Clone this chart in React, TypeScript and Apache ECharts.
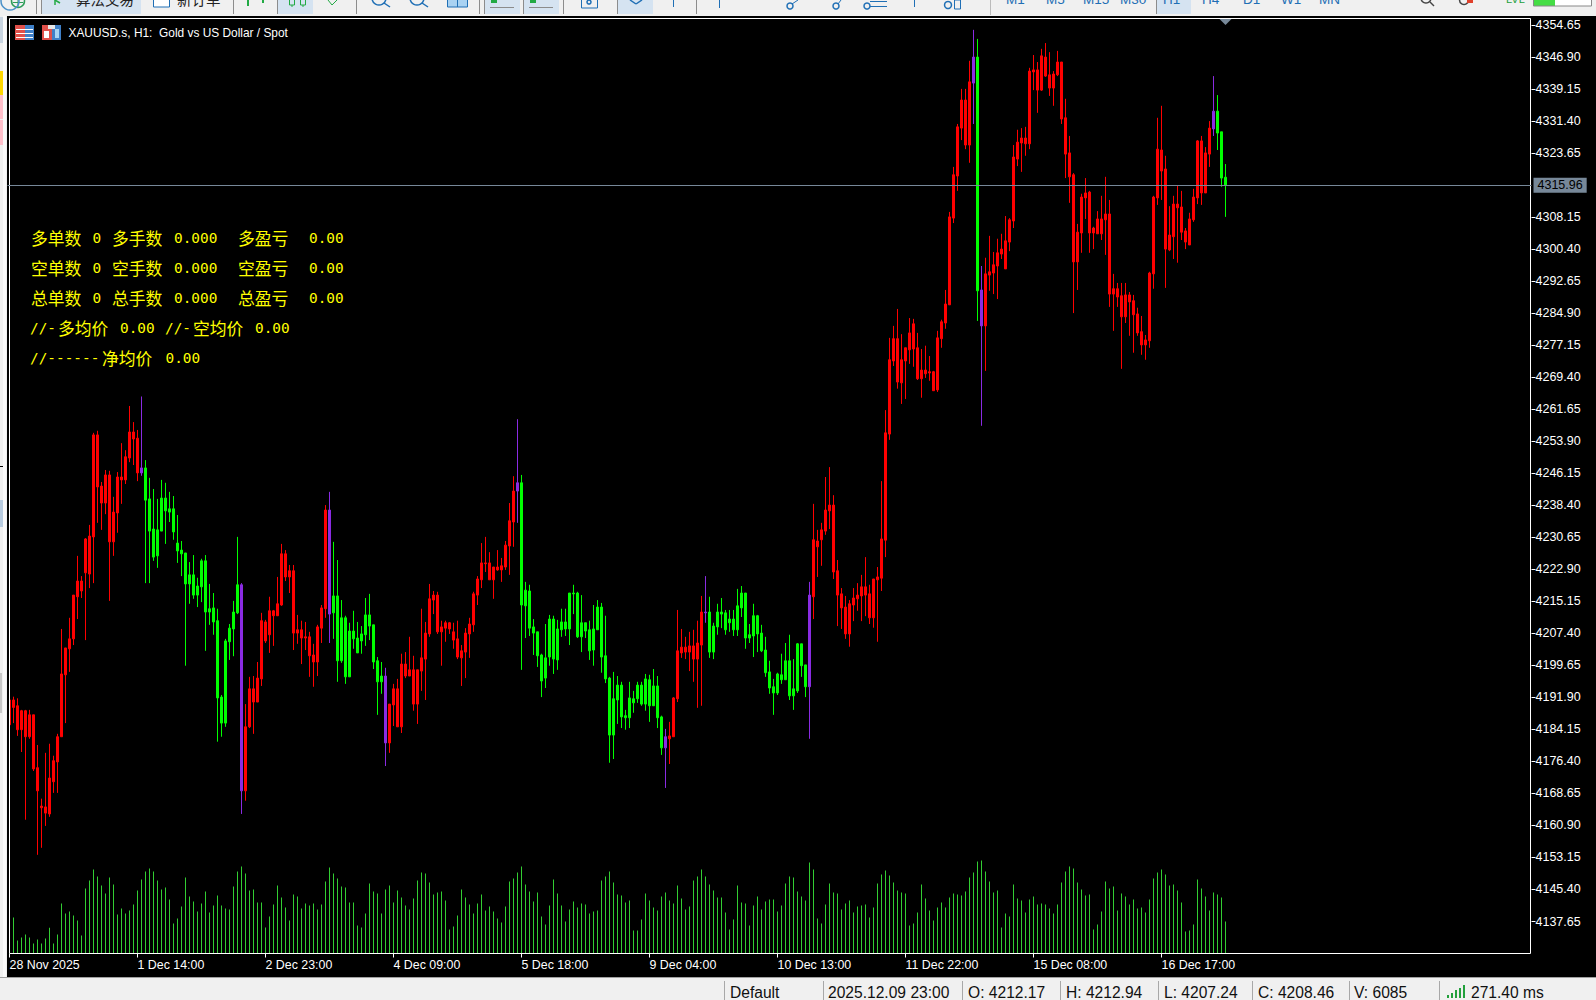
import React, { useEffect, useRef } from "react";
import * as echarts from "echarts";

// Each row: [body top, body bottom, high, low]
const barsA: number[][] = [
[4191.3,4185.3,4191.3,4180.4],[4191.3,4189.5,4192.1,4185.7],[4189.9,4184.1,4191.7,4182.6],[4188.7,4184.1,4188.9,4178.7],[4188.7,4182.4,4188.9,4162.3],[4187.7,4182.4,4188.9,4181.9],[4187.7,4174.6,4187.7,4174.1],[4174.9,4169.3,4180.4,4153.8],[4165.6,4165.2,4167.4,4155.5],[4165.4,4163.9,4178.5,4160.8],
[4172.4,4163.7,4180.7,4163.0],[4176.6,4171.5,4177.8,4168.8],[4182.4,4176.3,4183.1,4168.8],[4197.6,4182.4,4208.5,4182.4],[4203.9,4197.4,4203.9,4185.7],[4206.1,4203.7,4211.2,4198.1],[4216.7,4206.1,4216.7,4204.6],[4220.1,4216.3,4226.2,4210.9],[4220.1,4217.7,4221.3,4216.0],[4230.3,4222.1,4230.5,4205.8],
[4231.0,4221.8,4233.7,4218.4],[4255.5,4230.8,4256.0,4219.6],[4255.5,4242.9,4256.5,4234.2],[4243.1,4239.0,4244.1,4232.5],[4245.8,4239.0,4247.0,4236.3],[4245.8,4229.6,4246.8,4215.3],[4236.8,4229.6,4240.5,4226.2],[4245.3,4236.6,4246.5,4231.8],[4245.3,4244.6,4253.5,4238.8],[4250.2,4244.6,4251.8,4243.6],
[4256.2,4249.9,4262.5,4248.9],[4256.2,4254.5,4258.6,4248.2],[4254.7,4246.3,4256.7,4244.3],[4247.5,4246.3,4264.8,4245.6],[4247.5,4239.7,4249.4,4219.6],[4240.0,4232.2,4245.1,4219.6],[4232.7,4225.9,4242.4,4225.0],[4232.5,4226.2,4240.0,4223.3],[4240.2,4232.2,4244.6,4232.2],[4240.2,4237.1,4243.9,4229.1],
[4237.6,4236.8,4241.7,4234.4],[4237.6,4232.0,4240.7,4230.1],[4229.3,4227.4,4236.1,4224.5],[4227.6,4226.7,4229.8,4221.3],[4226.9,4219.4,4226.9,4199.6],[4221.6,4219.4,4224.7,4214.6],[4221.6,4216.7,4226.4,4215.8],[4218.9,4216.7,4220.9,4213.8],[4225.0,4218.7,4225.5,4215.0],[4225.0,4212.6,4226.4,4203.2],
[4213.4,4212.6,4219.4,4209.5],[4213.6,4210.2,4217.2,4207.1],[4210.5,4191.8,4213.4,4181.2],[4192.0,4185.7,4192.5,4182.4],[4205.6,4185.7,4206.1,4184.8],[4208.7,4205.4,4209.7,4201.0],[4212.6,4208.5,4215.3,4201.9],[4219.2,4212.4,4230.8,4212.1],[4219.2,4169.3,4219.6,4163.7],[4184.8,4169.3,4190.3,4166.9],
[4194.0,4184.8,4196.9,4184.5],[4194.0,4190.8,4197.1,4183.1],[4196.6,4190.8,4200.5,4190.8],[4210.5,4196.4,4212.4,4194.7],[4210.2,4205.6,4210.7,4205.1],[4212.9,4207.1,4216.3,4202.7],[4212.9,4211.7,4213.1,4204.4],[4214.6,4211.7,4221.1,4211.7],[4226.7,4214.3,4229.1,4214.1],[4226.7,4221.1,4227.6,4220.1],
[4222.6,4221.1,4224.0,4217.2],[4222.6,4207.5,4224.0,4203.4],[4208.3,4207.5,4211.9,4204.9],[4208.3,4206.3,4210.5,4200.0],[4206.6,4206.3,4210.2,4203.4],[4206.6,4202.0,4207.8,4196.9],[4202.2,4200.5,4204.9,4194.5],[4209.0,4200.5,4209.5,4197.1],[4213.6,4208.7,4214.3,4205.1],[4237.3,4213.4,4238.5,4211.2],
[4237.3,4212.1,4241.7,4205.1],[4216.5,4212.4,4229.6,4206.1],[4216.5,4200.8,4225.2,4195.7],[4211.2,4200.8,4215.5,4200.3],[4211.2,4196.9,4211.7,4195.2],[4208.0,4196.9,4210.0,4196.9],[4208.0,4206.1,4212.9,4203.7],[4206.3,4202.7,4210.2,4202.7],[4207.3,4205.6,4209.2,4202.5],[4211.9,4207.1,4216.0,4204.4],
[4211.9,4209.2,4217.0,4205.8],[4209.5,4200.5,4209.5,4198.8],[4200.8,4195.7,4201.7,4187.7],[4197.1,4195.7,4200.5,4192.8],[4197.1,4180.9,4199.1,4175.3],[4190.3,4180.9,4190.3,4178.5],[4194.0,4190.1,4195.2,4185.0],[4194.0,4184.8,4196.4,4184.8],
];
const barsB: number[][] = [
[4200.0,4184.8,4202.5,4183.3],[4200.0,4197.1,4202.9,4196.6],[4198.6,4197.1,4206.6,4197.1],[4198.6,4190.3,4202.0,4188.7],[4198.6,4190.3,4198.6,4185.5],[4201.5,4198.3,4213.4,4193.5],[4207.5,4201.2,4210.2,4191.3],[4215.8,4207.3,4219.4,4206.6],[4216.7,4215.5,4217.7,4212.1],[4216.7,4207.8,4217.5,4207.3],
[4209.0,4207.8,4210.5,4199.6],[4210.0,4208.7,4210.5,4205.4],[4210.0,4208.5,4210.2,4207.3],[4207.8,4205.8,4210.0,4203.7],[4206.1,4201.7,4210.5,4201.2],[4203.2,4201.5,4204.6,4194.7],[4207.5,4202.9,4208.7,4196.6],[4209.7,4207.3,4211.2,4201.5],[4217.0,4209.5,4217.5,4207.8],[4220.6,4216.7,4221.3,4214.3],
[4224.5,4220.4,4229.3,4218.4],[4224.5,4224.3,4230.8,4222.3],[4224.5,4220.4,4227.1,4220.4],[4223.5,4220.4,4223.5,4215.8],[4223.5,4222.8,4227.6,4222.6],[4223.8,4222.8,4225.7,4219.9],[4228.8,4223.5,4229.8,4222.8],[4234.7,4228.6,4239.0,4221.6],[4241.9,4234.4,4245.5,4228.4],[4243.9,4241.9,4259.3,4234.2],
[4243.9,4214.3,4245.8,4198.6],[4217.9,4214.1,4219.9,4206.3],[4217.7,4208.7,4219.2,4206.8],[4209.0,4207.5,4210.9,4202.2],[4207.8,4202.0,4207.8,4199.3],[4202.2,4195.9,4202.5,4192.0],[4201.5,4196.6,4209.7,4194.2],[4210.9,4201.7,4211.9,4199.6],[4210.9,4201.2,4211.7,4197.6],[4208.5,4201.0,4210.7,4198.6],
[4210.2,4208.3,4213.4,4206.6],[4210.2,4208.5,4213.4,4206.8],[4217.2,4208.5,4217.2,4204.6],[4217.2,4217.0,4219.2,4212.1],[4217.2,4206.6,4217.5,4206.3],[4210.0,4206.6,4216.7,4202.9],[4210.0,4208.0,4210.0,4206.3],[4208.3,4203.2,4210.5,4201.0],[4208.5,4203.4,4214.3,4199.6],[4213.8,4208.3,4215.5,4208.3],
[4213.8,4201.7,4214.8,4197.9],[4202.0,4196.4,4211.7,4195.4],[4196.6,4182.8,4196.9,4176.1],[4191.6,4182.8,4198.1,4177.0],[4194.9,4191.3,4197.1,4185.5],[4194.9,4187.2,4195.7,4184.5],[4187.5,4187.0,4188.9,4184.1],[4191.8,4187.0,4195.7,4184.5],[4191.6,4190.6,4193.5,4188.2],[4194.9,4191.6,4195.7,4190.6],
[4194.9,4190.3,4195.7,4189.9],[4196.4,4190.3,4197.6,4188.7],[4196.2,4189.9,4197.4,4186.0],[4194.7,4189.9,4198.8,4189.9],[4194.7,4187.0,4197.1,4184.5],[4187.2,4179.7,4187.5,4178.0],[4182.4,4179.7,4184.3,4170.0],[4182.6,4181.9,4186.0,4175.8],[4191.8,4182.4,4192.0,4182.4],[4203.2,4191.6,4213.1,4190.8],
[4204.1,4202.7,4208.5,4201.5],[4204.1,4202.9,4206.6,4201.2],[4204.4,4202.9,4207.8,4198.3],[4204.4,4201.2,4208.3,4195.7],[4205.1,4201.2,4210.5,4189.4],[4212.6,4204.6,4216.5,4189.9],[4212.6,4212.4,4221.3,4210.0],[4212.6,4202.9,4216.3,4201.5],[4209.2,4202.9,4210.0,4201.2],[4212.6,4209.0,4214.6,4207.1],
[4212.6,4212.1,4216.0,4208.7],[4212.4,4208.3,4213.1,4207.1],[4210.9,4210.0,4213.1,4207.8],[4210.9,4208.3,4213.1,4206.8],[4214.1,4208.3,4218.2,4206.8],[4217.2,4213.6,4218.9,4211.4],[4217.2,4206.3,4217.2,4203.7],[4207.1,4206.3,4209.7,4205.1],[4211.7,4206.8,4214.6,4201.7],[4211.7,4207.3,4211.9,4202.9],
[4207.5,4203.2,4209.5,4202.9],[4203.4,4197.9,4206.6,4196.9],[4198.1,4194.2,4200.8,4192.8],[4194.5,4193.0,4196.4,4187.7],[4197.6,4193.0,4197.9,4192.5],[4197.4,4196.2,4202.5,4195.2],[4200.8,4196.2,4205.1,4196.2],[4200.8,4192.3,4207.1,4191.3],[4194.0,4192.3,4201.2,4188.9],[4204.9,4193.5,4205.1,4193.0],
[4204.9,4199.6,4204.9,4196.9],[4199.8,4194.5,4199.8,4192.0],[4216.7,4194.5,4219.9,4181.9],[4230.1,4216.3,4238.8,4210.9],[4229.8,4228.4,4232.5,4221.1],[4232.5,4230.1,4234.2,4223.8],[4237.3,4232.2,4245.3,4231.3],[4238.5,4237.1,4247.7,4232.7],[4238.5,4222.3,4240.9,4220.6],[4222.6,4216.7,4225.2,4209.2],
];
const barsC: number[][] = [
[4217.0,4213.6,4218.4,4208.5],[4213.8,4207.3,4216.5,4206.1],[4214.6,4207.3,4215.5,4204.2],[4216.0,4214.3,4218.4,4210.4],[4216.7,4215.8,4219.6,4212.9],[4218.7,4216.5,4221.6,4210.4],[4218.7,4216.7,4225.9,4211.6],[4217.0,4211.2,4219.2,4209.7],[4220.6,4211.2,4220.6,4208.8],[4221.1,4220.4,4223.5,4205.4],
[4230.3,4220.8,4244.3,4217.7],[4256.0,4230.0,4261.5,4225.9],[4273.7,4255.7,4279.0,4254.3],[4278.8,4273.4,4281.9,4272.2],[4278.8,4268.3,4286.0,4266.7],[4273.7,4268.1,4279.9,4263.0],[4276.6,4273.4,4276.6,4264.2],[4280.2,4276.1,4283.8,4272.7],[4282.4,4276.3,4283.6,4272.0],[4276.6,4269.1,4280.2,4268.8],
[4271.2,4269.1,4276.3,4264.5],[4271.2,4270.3,4277.1,4269.3],[4270.8,4270.5,4274.6,4268.6],[4270.8,4266.2,4271.0,4266.2],[4279.0,4266.4,4280.7,4265.9],[4282.9,4278.8,4283.4,4276.6],[4287.2,4282.6,4290.6,4281.2],[4308.3,4287.0,4309.5,4287.0],[4318.5,4308.0,4320.4,4306.8],[4330.1,4318.2,4330.8,4314.6],
[4336.6,4329.8,4339.3,4326.9],[4336.6,4325.7,4339.3,4324.7],[4341.0,4325.7,4346.1,4321.4],[4347.0,4340.7,4353.6,4330.8],[4347.0,4290.4,4351.4,4283.1],[4290.6,4281.9,4296.4,4257.7],[4294.5,4281.9,4298.4,4271.0],[4295.0,4294.2,4303.7,4290.4],[4296.7,4294.7,4299.8,4289.6],[4299.6,4296.4,4303.0,4288.4],
[4300.5,4299.3,4304.2,4298.1],[4302.5,4295.7,4308.5,4295.7],[4307.6,4302.2,4308.0,4300.0],[4322.8,4307.3,4325.7,4305.6],[4326.4,4322.3,4329.4,4320.6],[4327.4,4326.2,4329.8,4319.2],[4327.4,4326.0,4330.1,4323.1],[4343.6,4326.0,4344.4,4324.7],[4343.9,4343.4,4347.5,4339.0],[4343.9,4339.0,4345.8,4333.5],
[4347.3,4339.0,4349.0,4338.8],[4347.0,4342.4,4350.4,4342.2],[4342.7,4339.5,4348.2,4337.6],[4342.9,4339.5,4343.6,4335.2],[4345.8,4342.7,4348.5,4342.4],[4345.8,4332.0,4345.8,4330.8],[4332.3,4323.5,4336.9,4317.7],[4323.8,4318.0,4327.9,4311.7],[4318.5,4297.4,4318.9,4285.0],[4304.6,4297.4,4306.6,4290.6],
[4313.1,4304.4,4313.9,4299.6],[4314.1,4312.9,4317.7,4307.8],[4314.3,4304.4,4314.6,4299.6],[4305.6,4304.4,4305.9,4300.5],[4307.8,4304.2,4309.7,4304.2],[4307.8,4304.2,4313.4,4302.7],[4309.0,4307.6,4318.0,4299.1],[4309.0,4289.6,4312.4,4286.5],[4290.9,4289.6,4294.5,4280.7],[4290.9,4288.9,4292.3,4286.5],
[4289.2,4284.1,4292.3,4271.5],[4289.4,4284.1,4292.3,4282.6],[4289.4,4287.7,4290.1,4279.5],[4288.0,4284.6,4289.4,4275.4],[4284.8,4280.2,4286.3,4279.5],[4280.5,4277.3,4284.3,4274.9],[4278.5,4277.3,4279.7,4273.7],[4294.7,4278.3,4295.0,4276.6],[4313.1,4294.5,4313.4,4290.9],[4324.7,4312.9,4332.3,4311.2],
[4324.5,4319.4,4335.2,4312.4],[4319.9,4300.5,4323.1,4291.1],[4303.9,4300.3,4310.9,4300.0],[4311.4,4303.5,4313.4,4298.1],[4311.4,4310.5,4316.0,4297.2],[4310.7,4304.6,4314.6,4302.7],[4304.9,4302.2,4305.6,4300.5],[4307.8,4301.5,4309.3,4301.5],[4313.1,4307.6,4315.1,4307.1],[4326.7,4312.9,4326.9,4311.4],
[4326.7,4314.1,4327.9,4311.2],[4323.8,4314.1,4325.2,4314.1],[4329.8,4323.5,4331.5,4320.4],[4333.9,4329.6,4342.4,4327.9],[4333.9,4328.6,4337.8,4324.5],[4328.9,4317.7,4328.9,4315.6],[4317.9,4315.96,4321.1,4308.3],
];
const greenRuns = [[34,57],[81,93],[128,163],[175,199],[242,242],[302,304]];
const purpleBars = [33,58,80,94,127,164,174,200,241,243,301];

const volumes = [
2000,5400,1950,2400,2850,2400,1500,2100,1500,2250,3850,1500,2850,7500,6000,6300,5700,4950,2700,9750,
10950,12600,11550,10200,9000,11400,10350,5850,6750,6000,6450,7350,9450,11100,12300,12750,12300,10950,9600,9900,
8100,4500,5250,7050,11400,8550,7800,6300,7500,9300,6150,7200,8700,7200,6750,6600,10050,12300,13050,12000,
9450,9600,7650,7650,3900,5550,7350,10200,8400,6900,4950,8850,8550,6750,7500,7200,7500,6600,7350,10800,
12900,12000,11250,10050,9900,7650,7650,4200,3900,6000,10500,9300,9000,6000,9600,10200,7650,9450,8400,7200,
6600,8250,10950,12150,12000,10650,8850,9150,9300,7950,3600,4050,5700,9600,8400,7350,6000,7500,8850,6450,
7050,6300,5250,4650,7050,10800,11250,12150,13050,10350,9300,7800,9150,5550,4350,7200,11100,9000,7200,4800,
6600,7800,6900,7500,7350,6000,6300,6450,10950,11550,12300,10650,8850,8700,7650,7950,3450,3450,5100,9000,
7950,6900,6450,8550,9150,7950,7500,10200,8250,6600,7050,10950,11550,12600,11550,10350,9450,8400,8400,6150,
3600,5100,10200,7650,7500,4200,7200,8550,6600,7800,8100,8100,6300,7200,10500,11550,11400,9300,8550,7950,
13650,12600,5250,4500,7350,10500,9150,9000,6600,7500,7950,6150,7050,7200,7350,5400,6900,10500,11850,12450,
11700,10650,9450,9150,9000,4200,4500,6150,10350,8250,6450,4950,6900,7650,6900,8400,9000,8850,8700,9300,
11400,12150,13800,13950,12300,10800,9150,9450,3900,6000,5550,10350,8250,7950,6150,8100,8550,7350,7500,7350,
6750,6000,7350,10650,12300,13050,12750,10650,9600,8700,8850,3600,4350,6300,10800,9750,10050,6450,9000,8550,
7350,8100,6750,6900,6150,8100,11250,12150,12600,11850,10200,10350,9450,7650,3300,3450,4350,11100,9750,8550,
6450,9150,8850,8400,4800,
];

const timeLabels = ["28 Nov 2025","1 Dec 14:00","2 Dec 23:00","4 Dec 09:00","5 Dec 18:00","9 Dec 04:00","10 Dec 13:00","11 Dec 22:00","15 Dec 08:00","16 Dec 17:00"];
const priceTicks = [4354.65,4346.90,4339.15,4331.40,4323.65,4308.15,4300.40,4292.65,4284.90,4277.15,4269.40,4261.65,4253.90,4246.15,4238.40,4230.65,4222.90,4215.15,4207.40,4199.65,4191.90,4184.15,4176.40,4168.65,4160.90,4153.15,4145.40,4137.65];
const currentPrice = 4315.96;
const chartTitle = "XAUUSD.s, H1:  Gold vs US Dollar / Spot";
const accountRows = [
  ["多单数","0","多手数","0.000","多盈亏","0.00"],
  ["空单数","0","空手数","0.000","空盈亏","0.00"],
  ["总单数","0","总手数","0.000","总盈亏","0.00"],
];
const averageRow = ["//-","多均价","0.00","//-","空均价","0.00"];
const netRow = ["//------","净均价","0.00"];
const periods = ["M1","M5","M15","M30","H1","H4","D1","W1","MN"];
const statusTexts = ["Default","2025.12.09 23:00","O: 4212.17","H: 4212.94","L: 4207.24","C: 4208.46","V: 6085","271.40 ms"];
const toolbarTexts = ["算法交易","新订单"];

const FONT = "'Liberation Sans', Arial, sans-serif";
const CJK = "'Noto Sans CJK SC', sans-serif";
const MONO = "'DejaVu Sans Mono', monospace";
const RED = "#ff0000", GREEN = "#00ff00", PURPLE = "#8a2be2", VOL = "#32cd32", SLATE = "#778899", CHROME = "#f0f0f0", BLUE = "#1f6fb5", TOGGLE = "#d5e3f1";

const rect = (x: number, y: number, width: number, height: number, fill: string, z = 20) => ({ type: "rect", silent: true, z, shape: { x, y, width, height }, style: { fill } });
const box = (x: number, y: number, width: number, height: number, stroke: string, z = 21, fill = "none") => ({ type: "rect", silent: true, z, shape: { x, y, width, height }, style: { fill, stroke, lineWidth: 1 } });
const seg = (x1: number, y1: number, x2: number, y2: number, stroke: string, z = 21, lineWidth = 1) => ({ type: "line", silent: true, z, shape: { x1, y1, x2, y2 }, style: { stroke, lineWidth } });
const circ = (cx: number, cy: number, r: number, stroke: string, z = 21) => ({ type: "circle", silent: true, z, shape: { cx, cy, r }, style: { fill: "none", stroke, lineWidth: 1.5 } });
const label = (text: string, x: number, y: number, fill: string, fontSize: number, fontFamily: string, z = 22) => ({ type: "text", silent: true, z, x, y, style: { text, fill, fontSize, fontFamily, align: "left", verticalAlign: "middle" } });

function chrome(): any[] {
  const els: any[] = [];
  // black chart window and frame
  els.push(rect(7, 16, 1589, 961, "#000000", -1));
  els.push(rect(7, 18, 2, 936, "#000000", 4));
  els.push(box(9.5, 18.5, 1521, 935, "#ffffff", 5));
  // top toolbar
  els.push(rect(0, 0, 1596, 16, CHROME));
  [[42,99],[278,35],[484,36],[523,36],[617,36],[1156,35]].forEach(([x, w]) => els.push(rect(x, 0, w, 14, TOGGLE, 20.5)));
  [36,41,233,277,356,479,484,523,563,617,696,1156].forEach((x) => els.push(seg(x + 0.5, 0, x + 0.5, 14, "#8c8c8c")));
  els.push(circ(18, 1, 6.5, "#2f9e58"), seg(18, 0, 18, 7, "#2f9e58"), seg(13, 2.5, 23, 2.5, "#2f9e58"), circ(10, 1, 9, "#4a90c8"));
  els.push(rect(153, 0, 17, 7, "#ffffff", 21), box(153.5, -2, 16, 9, BLUE));
  els.push(seg(55, 0, 60, 3, "#22aa44", 21, 1.5), seg(55, 0, 55, 5, "#22aa44", 21, 1.5));
  els.push(rect(247, 0, 2, 6, "#22aa44", 21), rect(262, 0, 2, 3, "#22aa44", 21), box(289.5, -2, 5, 7, "#22aa44"), box(300.5, -2, 5, 7, "#22aa44"), seg(292, 5, 292, 7, "#22aa44"), seg(303, 5, 303, 7, "#22aa44"), seg(328, 0, 332, 5, "#22aa44"), seg(332, 5, 337, 0, "#22aa44"));
  els.push(circ(379, -2, 7, BLUE), seg(384, 3, 390, 7, BLUE, 21, 1.5), circ(417, -2, 7, BLUE), seg(422, 3, 428, 7, BLUE, 21, 1.5));
  els.push(box(447.5, -3, 20, 10, BLUE, 21, "#a9d2f2"), seg(457.5, 0, 457.5, 7, BLUE));
  els.push(seg(490, 7.5, 514, 7.5, "#8c8c8c"), seg(529, 7.5, 553, 7.5, "#8c8c8c"), rect(491, 0, 6, 3, "#22aa44", 21), rect(530, 0, 6, 3, "#22aa44", 21));
  els.push(box(581.5, -3, 16, 11, BLUE), circ(589, 2, 2, BLUE));
  els.push(seg(630, 0, 636, 4, BLUE, 21, 1.5), seg(636, 4, 642, 0, BLUE, 21, 1.5));
  els.push(seg(673.5, 0, 673.5, 7, BLUE), seg(719.5, 0, 719.5, 8, BLUE), circ(790, 6, 3, BLUE), seg(792, 4, 798, 0, BLUE));
  els.push(circ(836, 6, 3, BLUE), seg(838, 4, 841, 0, BLUE), circ(867, 6, 3, BLUE), seg(870, 6.5, 887, 6.5, BLUE), seg(870, 1.5, 887, 1.5, BLUE), seg(914.5, 0, 914.5, 7, BLUE), circ(948, 5, 3.5, BLUE), box(954.5, 0, 6, 9, BLUE), seg(990.5, 0, 990.5, 15, "#bbbbbb"));
  els.push(circ(1426, -2, 5, "#444444"), seg(1430, 2, 1434, 6, "#444444", 21, 1.5), circ(1464, 0, 4.5, "#444444"), rect(1467, 0, 6, 3, "#e0402a", 21));
  els.push(label("LVL", 1506, -1, "#22a03c", 11, FONT));
  els.push(rect(1533, 0, 58, 6, "#ffffff", 21), rect(1533, 0, 22, 6, "#44dd44", 21), box(1533.5, -1, 58, 7, "#888888"));
  [76, 177].forEach((x, i) => els.push(label(toolbarTexts[i], x, -2, "#222222", 14.5, CJK)));
  [1006,1046,1083,1120,1163,1202,1243,1281,1319].forEach((x, i) => els.push(label(periods[i], x, -1, BLUE, 13.5, FONT)));
  // triangle at the shift marker
  els.push({ type: "polygon", silent: true, z: 6, shape: { points: [[1219.5, 19], [1231.5, 19], [1225.5, 25]] }, style: { fill: SLATE } });
  // left strip
  els.push(rect(0, 16, 7, 961, CHROME));
  els.push(rect(0, 17, 3, 26, "#c8d4e0", 21), rect(3, 16, 3, 961, "#fafafa", 20.5), rect(0, 71, 3, 24, "#ffd700", 21), rect(0, 95, 3, 24, "#ffc0cb", 21), rect(0, 120, 3, 25, "#ffc0cb", 21), rect(0, 466, 3, 1, "#000000", 21), rect(0, 500, 3, 27, "#b8cce0", 21), rect(0, 673, 2, 40, "#c8c8c8", 21));
  // status bar
  els.push(rect(0, 977, 1596, 23, CHROME), seg(0, 977.5, 1596, 977.5, "#a0a0a0"));
  [724,823,962,1060,1158,1252,1349,1439].forEach((x) => els.push(seg(x + 0.5, 981, x + 0.5, 1000, "#a8a8a8")));
  [730,828,968,1066,1164,1258,1354,1471].forEach((x, i) => els.push(label(statusTexts[i], x, 992.5, "#111111", 15.6, FONT)));
  [[1447,3],[1451,5],[1455,8],[1459,10],[1463,13]].forEach(([x, h]) => els.push(rect(x, 998 - h, 2, h, "#22a03c", 21)));
  // chart title and icons
  els.push(label(chartTitle, 68.5, 32.5, "#ffffff", 11.9, FONT, 8));
  els.push(rect(15, 25, 10, 15, "#e0504a", 8), rect(25, 25, 9, 15, "#3f80c8", 8), rect(16, 29, 17, 1, "#ffffff", 9), rect(16, 33, 17, 1, "#ffffff", 9), rect(16, 37, 17, 1, "#ffffff", 9));
  els.push(rect(42, 25, 10, 15, "#e0504a", 8), rect(52, 25, 9, 15, "#3f80c8", 8), rect(48, 25, 7, 4, "#e8e8e8", 9), rect(44, 31, 5, 7, "#ffffff", 9), rect(55, 29, 4, 9, "#a8d4f4", 9));
  // account overlay
  const rowX = [31, 92.5, 112, 174, 238, 309];
  accountRows.forEach((row, r) => row.forEach((t, i) => els.push(label(t, rowX[i], 238 + r * 30, "#ffff00", i % 2 ? 14.4 : 16.8, i % 2 ? MONO : CJK, 8))));
  const avgX = [30, 58, 120, 165, 193, 255];
  averageRow.forEach((t, i) => els.push(label(t, avgX[i], 328, "#ffff00", i % 3 === 1 ? 16.8 : 14.4, i % 3 === 1 ? CJK : MONO, 8)));
  const netX = [30, 102, 165.5];
  netRow.forEach((t, i) => els.push(label(t, netX[i], 358, "#ffff00", i === 1 ? 16.8 : 14.4, i === 1 ? CJK : MONO, 8)));
  return els;
}

export default function App() {
  const ref = useRef<HTMLDivElement>(null);
  useEffect(() => {
    const chart = echarts.init(ref.current!, undefined, { renderer: "svg" });
    const bars = [...barsA, ...barsB, ...barsC];
    const isGreen = (k: number) => greenRuns.some(([a, b]) => k >= a && k <= b);
    const candles = bars.map(([top, bottom, high, low], k) => {
      if (purpleBars.includes(k)) return { value: [bottom, top, low, high], itemStyle: { color: PURPLE, color0: PURPLE, borderColor: PURPLE, borderColor0: PURPLE } };
      return { value: isGreen(k) ? [top, bottom, low, high] : [bottom, top, low, high] };
    });
    const slots = 381;
    const categories = Array.from({ length: slots }, (_, i) => String(i));
    const showTick = (i: number) => i % 32 === 0 && i / 32 < timeLabels.length;
    chart.setOption({
      animation: false,
      backgroundColor: CHROME,
      grid: { left: 7.5, top: 18.5, width: 1524, height: 935, containLabel: false },
      xAxis: {
        type: "category",
        data: categories,
        boundaryGap: true,
        axisLine: { show: false },
        axisTick: { show: true, alignWithLabel: true, length: 4, interval: (i: number) => showTick(i), lineStyle: { color: "#ffffff", width: 1 } },
        axisLabel: { show: true, interval: (i: number) => showTick(i), formatter: (_: string, i: number) => timeLabels[i / 32] ?? "", align: "left", margin: 5, color: "#ffffff", fontFamily: FONT, fontSize: 12.4 },
        splitLine: { show: false },
      },
      yAxis: [
        {
          type: "value",
          position: "right",
          min: 4129.9,
          max: 4356.345,
          axisLine: { show: false },
          axisTick: { show: true, length: 4, customValues: priceTicks, lineStyle: { color: "#ffffff", width: 1 } },
          axisLabel: { show: true, customValues: priceTicks, margin: 4, padding: [2, 0, 0, 0], color: "#ffffff", fontFamily: FONT, fontSize: 12.5, formatter: (v: number) => v.toFixed(2) },
          splitLine: { show: false },
        },
        { type: "value", min: 0, max: 140250, show: false, splitLine: { show: false } },
      ],
      series: [
        {
          type: "bar",
          yAxisIndex: 1,
          data: volumes,
          barWidth: 1,
          itemStyle: { color: VOL },
          silent: true,
          z: 1,
        },
        {
          type: "candlestick",
          data: candles,
          barWidth: 3,
          silent: true,
          z: 2,
          itemStyle: { color: RED, color0: GREEN, borderColor: RED, borderColor0: GREEN, borderWidth: 1 },
          markLine: {
            symbol: "none",
            silent: true,
            animation: false,
            lineStyle: { color: SLATE, width: 1, type: "solid" },
            label: { show: true, position: "end", distance: 2, formatter: () => currentPrice.toFixed(2), color: "#000000", backgroundColor: SLATE, padding: [1, 4, 1, 4], fontFamily: FONT, fontSize: 12.5 },
            data: [{ yAxis: currentPrice }],
          },
        },
      ],
      graphic: { elements: chrome() },
    });
    return () => chart.dispose();
  }, []);
  return <div ref={ref} style={{ position: "fixed", left: 0, top: 0, width: 1596, height: 1000 }} />;
}
